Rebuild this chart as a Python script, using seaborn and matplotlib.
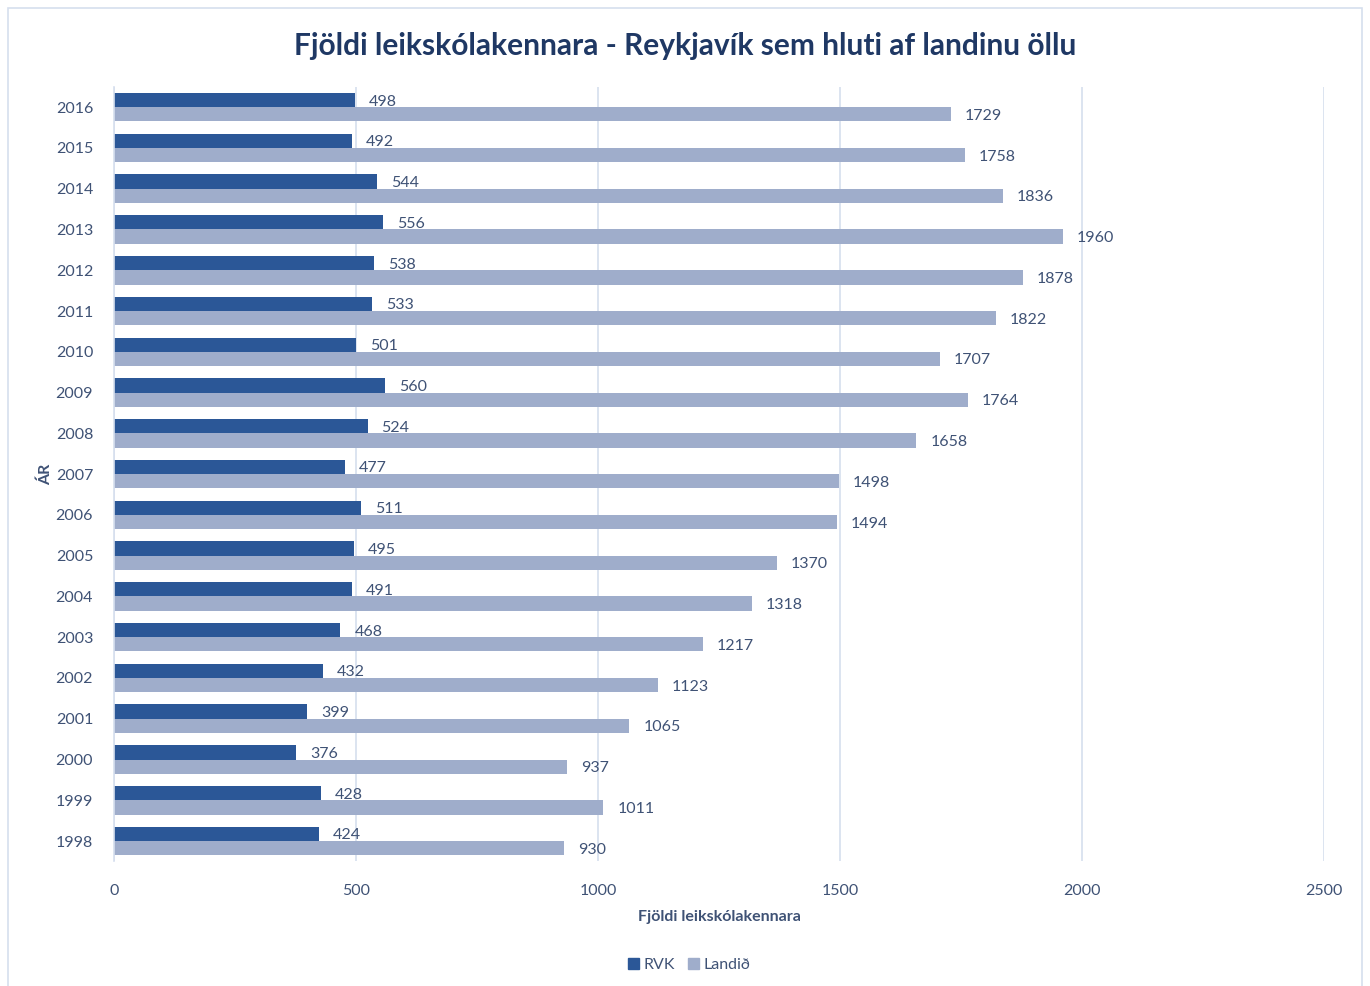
import pandas as pd
import matplotlib
matplotlib.use("Agg")
import matplotlib.pyplot as plt
import seaborn as sns
from matplotlib.patches import Rectangle

# Data (top to bottom as in the chart)
years = ["2016", "2015", "2014", "2013", "2012", "2011", "2010", "2009", "2008", "2007",
         "2006", "2005", "2004", "2003", "2002", "2001", "2000", "1999", "1998"]
rvk = [498, 492, 544, 556, 538, 533, 501, 560, 524, 477,
       511, 495, 491, 468, 432, 399, 376, 428, 424]
landid = [1729, 1758, 1836, 1960, 1878, 1822, 1707, 1764, 1658, 1498,
          1494, 1370, 1318, 1217, 1123, 1065, 937, 1011, 930]
series = ["RVK", "Landið"]
colors = ["#2b5797", "#9fadcb"]

TEXT = "#3f5275"
TITLE = "#1f3864"

df = pd.DataFrame({
    "Ár": years * 2,
    "Fjöldi": rvk + landid,
    "Röð": [series[0]] * len(years) + [series[1]] * len(years),
})

sns.set_theme(style="white")
plt.rcParams["font.family"] = ["Lato", "DejaVu Sans"]

fig = plt.figure(figsize=(13.7, 9.86), dpi=100)
ax = fig.add_axes([0.0832, 0.1263, 0.8832, 0.7857])

sns.barplot(data=df, x="Fjöldi", y="Ár", hue="Röð", order=years, hue_order=series,
            palette=colors, width=0.7, orient="h", ax=ax, legend=False,
            edgecolor="none", saturation=1)

# data labels
for cont in ax.containers:
    labels = ax.bar_label(cont, labels=[f"{int(v)}" for v in cont.datavalues], padding=10,
                          fontsize=11.5, color=TEXT)
    for t in labels:
        t.set_verticalalignment("center_baseline")

ax.set_xlim(0, 2500)
ax.set_ylim(len(years) - 0.5, -0.5)
ax.set_xticks([0, 500, 1000, 1500, 2000, 2500])
ax.xaxis.grid(True, color="#d6dfee", linewidth=1.2)
ax.set_axisbelow(True)
for s in ["top", "right", "bottom"]:
    ax.spines[s].set_visible(False)
ax.spines["left"].set_color("#d6dfee")
ax.spines["left"].set_linewidth(1.2)
ax.tick_params(axis="both", length=0, labelsize=11.5, labelcolor=TEXT)
ax.tick_params(axis="x", pad=16)
ax.tick_params(axis="y", pad=15)

ax.set_xlabel("Fjöldi leikskólakennara", fontsize=11.5, fontweight="bold",
              color=TEXT, labelpad=9)
ax.set_ylabel("ÁR", fontsize=11.5, fontweight="bold", color=TEXT, labelpad=2)

fig.suptitle("Fjöldi leikskólakennara - Reykjavík sem hluti af landinu öllu",
             x=0.5, y=0.968, fontsize=21.5, fontweight="bold", color=TITLE)

handles = [Rectangle((0, 0), 1, 1, color=c) for c in colors]
fig.legend(handles, series, loc="center", bbox_to_anchor=(0.503, 0.021), ncol=2,
           frameon=False, fontsize=11.5, labelcolor=TEXT, handlelength=0.7,
           handleheight=0.7, handletextpad=0.3, columnspacing=0.8)

# chart border
fig.patches.append(Rectangle((0.006, -0.01), 0.988, 1.002, transform=fig.transFigure,
                             fill=False, edgecolor="#d6dfee", linewidth=1.2))

fig.savefig("out.png", dpi=100)
